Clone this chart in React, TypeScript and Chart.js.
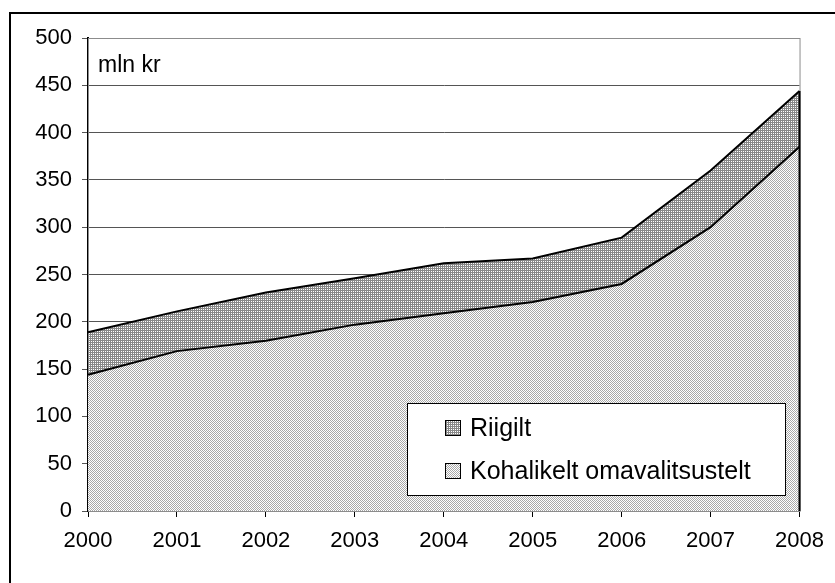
import React, { useEffect, useRef } from "react";
import { Chart, registerables } from "chart.js";

Chart.register(...registerables);

const years = ["2000", "2001", "2002", "2003", "2004", "2005", "2006", "2007", "2008"];
const kohalikelt = [144, 169, 180, 197, 209, 221, 240, 300, 385];
const riigilt = [45, 42, 51, 49, 53, 46, 49, 60, 59];
const seriesNames = ["Kohalikelt omavalitsustelt", "Riigilt"];
const unitLabel = "mln kr";

const FONT = "Arial, 'Liberation Sans', sans-serif";

function makePattern(cells: string[][]): CanvasPattern | string {
  const c = document.createElement("canvas");
  c.width = cells[0].length;
  c.height = cells.length;
  const g = c.getContext("2d");
  if (!g) return "#ccc";
  for (let y = 0; y < cells.length; y++) {
    for (let x = 0; x < cells[y].length; x++) {
      g.fillStyle = cells[y][x];
      g.fillRect(x, y, 1, 1);
    }
  }
  const ctx = document.createElement("canvas").getContext("2d");
  const p = ctx ? ctx.createPattern(c, "repeat") : null;
  return p || "#ccc";
}

export default function App() {
  const ref = useRef<HTMLCanvasElement | null>(null);

  useEffect(() => {
    if (!ref.current) return;
    const lightPat = makePattern([
      ["#a8a8a8", "#ffffff"],
      ["#ffffff", "#a8a8a8"],
    ]);
    const darkPat = makePattern([
      ["#888888", "#888888"],
      ["#888888", "#ffffff"],
    ]);

    const decor = {
      id: "decor",
      beforeDatasetsDraw(chart: any) {
        const { ctx, chartArea } = chart;
        ctx.save();
        ctx.strokeStyle = "#8c8c8c";
        ctx.lineWidth = 1;
        ctx.strokeRect(chartArea.left + 0.5, chartArea.top + 0.5, chartArea.right - chartArea.left, chartArea.bottom - chartArea.top);
        ctx.restore();
      },
      afterDatasetsDraw(chart: any) {
        const { ctx } = chart;
        const xs = chart.scales.x;
        const ys = chart.scales.y;
        const last = years.length - 1;
        const x = xs.getPixelForValue(last);
        ctx.save();
        ctx.strokeStyle = "#000";
        ctx.lineWidth = 2;
        ctx.beginPath();
        ctx.moveTo(x, ys.getPixelForValue(0));
        ctx.lineTo(x, ys.getPixelForValue(kohalikelt[last] + riigilt[last]));
        ctx.stroke();
        ctx.restore();
      },
      afterDraw(chart: any) {
        const { ctx, chartArea } = chart;
        ctx.save();
        // outer frame
        ctx.strokeStyle = "#000";
        ctx.lineWidth = 2;
        ctx.beginPath();
        ctx.moveTo(10, 600);
        ctx.lineTo(10, 13);
        ctx.lineTo(840, 13);
        ctx.stroke();
        // unit label
        ctx.fillStyle = "#000";
        ctx.font = `23px ${FONT}`;
        ctx.textBaseline = "middle";
        ctx.textAlign = "left";
        ctx.fillText(unitLabel, chartArea.left + 10, 66);
        // legend
        const bx = 407, by = 403, bw = 378, bh = 92;
        ctx.fillStyle = "#fff";
        ctx.fillRect(bx, by, bw, bh);
        ctx.strokeStyle = "#000";
        ctx.lineWidth = 1;
        ctx.strokeRect(bx + 0.5, by + 0.5, bw, bh);
        const items = [
          { label: chart.data.datasets[1].label, fill: chart.data.datasets[1].backgroundColor, cy: 428 },
          { label: chart.data.datasets[0].label, fill: chart.data.datasets[0].backgroundColor, cy: 471 },
        ];
        for (const it of items) {
          ctx.fillStyle = it.fill;
          ctx.fillRect(445, it.cy - 8, 16, 16);
          ctx.strokeStyle = "#000";
          ctx.strokeRect(445.5, it.cy - 7.5, 15, 15);
          ctx.fillStyle = "#000";
          ctx.font = `25px ${FONT}`;
          ctx.textBaseline = "middle";
          ctx.fillText(it.label, 470, it.cy + 1);
        }
        ctx.restore();
      },
    };

    const chart = new Chart(ref.current, {
      type: "line",
      data: {
        labels: years,
        datasets: [
          {
            label: seriesNames[0],
            data: kohalikelt,
            backgroundColor: lightPat as any,
            borderColor: "#000",
            borderWidth: 2,
            fill: "origin",
            pointRadius: 0,
            tension: 0,
          },
          {
            label: seriesNames[1],
            data: riigilt,
            backgroundColor: darkPat as any,
            borderColor: "#000",
            borderWidth: 2,
            fill: "-1",
            pointRadius: 0,
            tension: 0,
          },
        ],
      },
      options: {
        animation: false,
        responsive: false,
        devicePixelRatio: 1,
        layout: { padding: { left: 0, right: 25, top: 38, bottom: 0 } },
        plugins: { legend: { display: false }, tooltip: { enabled: false } },
        scales: {
          x: {
            offset: false,
            grid: { drawOnChartArea: false, drawTicks: true, tickLength: 6, color: "#000" },
            border: { color: "#000", width: 2 },
            ticks: { font: { family: FONT, size: 22 }, color: "#000", padding: 11, maxRotation: 0, autoSkip: false },
            afterFit: (s: any) => { s.height = 72; },
          },
          y: {
            stacked: true,
            min: 0,
            max: 500,
            grid: { color: "#555", lineWidth: 1, tickLength: 6, tickColor: "#555" },
            border: { color: "#000", width: 2 },
            ticks: { stepSize: 50, font: { family: FONT, size: 22 }, color: "#000", padding: 10 },
            afterFit: (s: any) => { s.width = 88; },
          },
        },
      },
      plugins: [decor],
    });
    return () => chart.destroy();
  }, []);

  return (
    <div style={{ position: "fixed", left: 0, top: 0, width: 835, height: 583, background: "#fff" }}>
      <canvas ref={ref} width={835} height={583} style={{ width: 835, height: 583, display: "block" }} />
    </div>
  );
}
